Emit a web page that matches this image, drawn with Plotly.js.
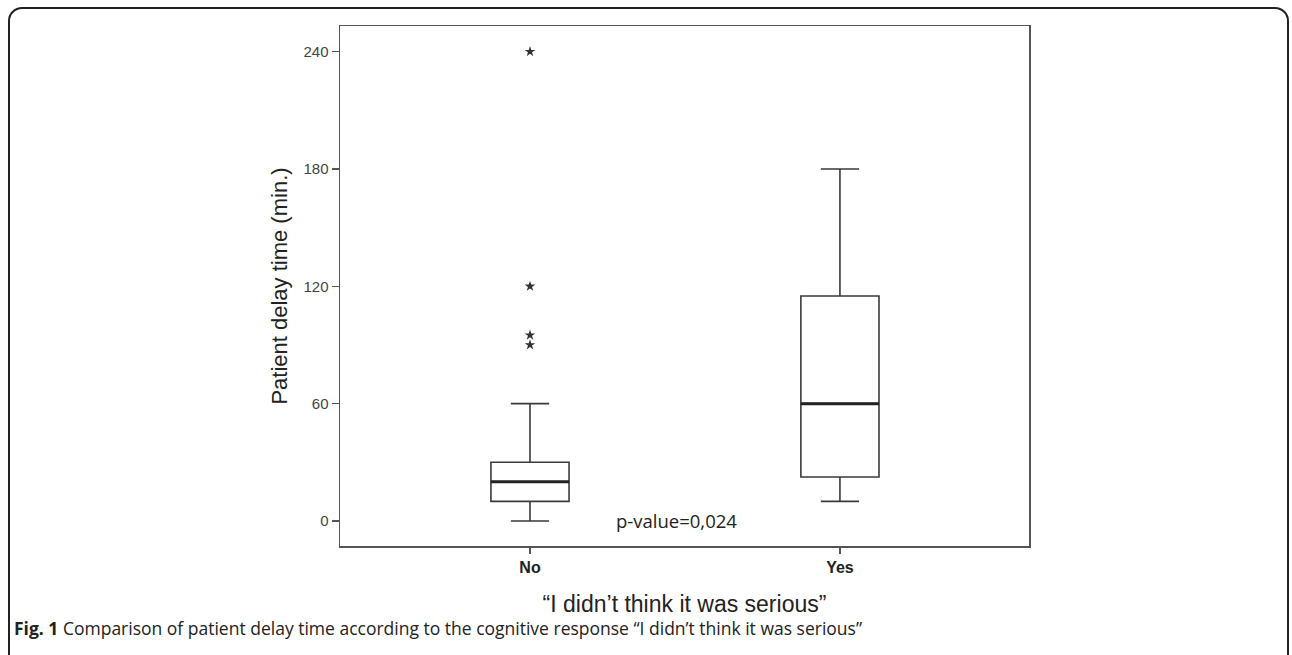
<!DOCTYPE html>
<html>
<head>
<meta charset="utf-8">
<script src="https://cdn.plot.ly/plotly-3.0.1.min.js"></script>
<style>
  html, body { margin: 0; padding: 0; width: 1292px; height: 655px; overflow: hidden; background: #fff; }
  #frame { position: absolute; left: 8px; top: 7px; width: 1281px; height: 720px; border: 2px solid #222;
           border-top-left-radius: 14px; border-top-right-radius: 14px; box-sizing: border-box; }
  #chart { position: absolute; left: 0; top: 0; width: 1292px; height: 655px; }
</style>
</head>
<body>
<div id="frame"></div>
<div id="chart"></div>
<script>
// ---- data ----
const categories = ['No', 'Yes'];
const lowerWhisker = [0, 10];
const q1Values = [10, 22.5];
const medianValues = [20, 60];
const q3Values = [30, 115];
const upperWhisker = [60, 180];
const outlierCategory = ['No', 'No', 'No', 'No'];
const outlierValues = [240, 120, 95, 90];
const yTickValues = [0, 60, 120, 180, 240];
const yTickLabels = ['0', '60', '120', '180', '240'];

const AX_FONT = '"Liberation Sans", Arial, sans-serif';
const TXT_FONT = '"Open Sans", "Noto Sans", sans-serif';

const boxTrace = {
  type: 'box',
  x: categories,
  q1: q1Values,
  median: medianValues,
  q3: q3Values,
  lowerfence: lowerWhisker,
  upperfence: upperWhisker,
  boxpoints: false,
  width: 0.252,
  whiskerwidth: 0.49,
  fillcolor: '#ffffff',
  line: { color: '#3a3a3a', width: 1.6 },
  hoverinfo: 'skip',
  showlegend: false
};

// thick median line: a degenerate box at the median
const medianTrace = {
  type: 'box',
  x: categories,
  q1: medianValues,
  median: medianValues,
  q3: medianValues,
  lowerfence: medianValues,
  upperfence: medianValues,
  boxpoints: false,
  width: 0.252,
  whiskerwidth: 0,
  fillcolor: 'rgba(0,0,0,0)',
  line: { color: '#222222', width: 3 },
  hoverinfo: 'skip',
  showlegend: false
};

const outlierTrace = {
  type: 'scatter',
  mode: 'markers',
  x: outlierCategory,
  y: outlierValues,
  marker: { symbol: 'star', size: 8, color: '#333333' },
  hoverinfo: 'skip',
  showlegend: false
};

const layout = {
  width: 1292,
  height: 655,
  margin: { l: 340, r: 263, t: 26, b: 109, pad: 0 },
  paper_bgcolor: 'rgba(0,0,0,0)',
  plot_bgcolor: '#ffffff',
  boxmode: 'overlay',
  font: { family: AX_FONT, color: '#222' },
  xaxis: {
    type: 'category',
    categoryorder: 'array',
    categoryarray: categories,
    range: [-0.613, 1.61],
    showline: true,
    linecolor: '#555',
    linewidth: 1.5,
    mirror: true,
    showgrid: false,
    zeroline: false,
    ticks: 'outside',
    ticklen: 6,
    tickwidth: 1.5,
    tickcolor: '#555',
    tickfont: { family: AX_FONT, size: 16, color: '#222', weight: 'bold' },
    title: { text: '“I didn’t think it was serious”', font: { family: AX_FONT, size: 23, color: '#222' }, standoff: 21 }
  },
  yaxis: {
    range: [-12.8, 253.1],
    tickmode: 'array',
    tickvals: yTickValues,
    ticktext: yTickLabels,
    showline: true,
    linecolor: '#555',
    linewidth: 1.5,
    mirror: true,
    showgrid: false,
    zeroline: false,
    ticks: 'outside',
    ticklen: 7,
    tickwidth: 1.5,
    tickcolor: '#555',
    tickfont: { family: AX_FONT, size: 15, color: '#444' },
    title: { text: 'Patient delay time (min.)', font: { family: AX_FONT, size: 22, color: '#222' }, standoff: 10 }
  },
  annotations: [
    {
      text: 'p-value=0,024',
      xref: 'paper', yref: 'y',
      x: 0.488, y: 0,
      xanchor: 'center', yanchor: 'middle',
      showarrow: false,
      font: { family: TXT_FONT, size: 18.5, color: '#222' }
    },
    {
      text: '<b>Fig. 1</b> Comparison of patient delay time according to the cognitive response “I didn’t think it was serious”',
      xref: 'paper', yref: 'paper',
      x: -0.476, y: -0.1577,
      xanchor: 'left', yanchor: 'middle',
      showarrow: false,
      font: { family: TXT_FONT, size: 17.5, color: '#222' }
    }
  ]
};

Plotly.newPlot('chart', [boxTrace, medianTrace, outlierTrace], layout, { displayModeBar: false, staticPlot: true });
</script>
</body>
</html>
